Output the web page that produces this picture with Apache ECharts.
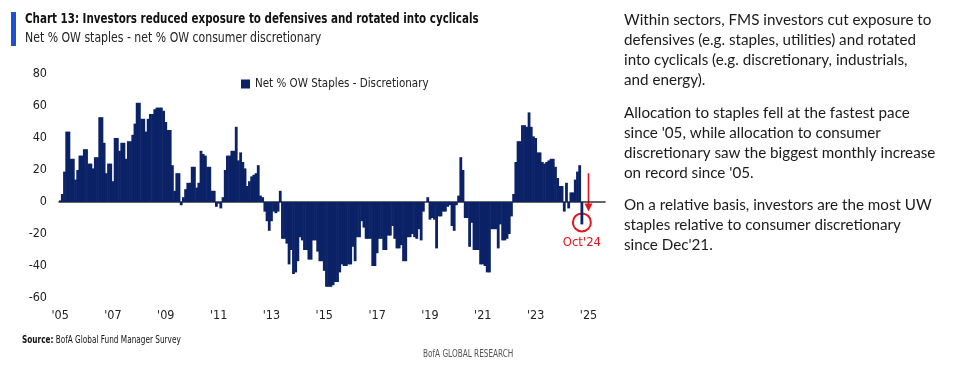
<!DOCTYPE html>
<html>
<head>
<meta charset="utf-8">
<script src="https://cdn.jsdelivr.net/npm/echarts@6/dist/echarts.min.js"></script>
<style>
html,body{margin:0;padding:0;background:#fff;}
#main{width:957px;height:374px;}
</style>
</head>
<body>
<div id="main"></div>
<script>
// ---- Data (monthly, Jan 2005 .. Oct 2024) ----
const v2005 = [1, 5, 19, 44, 44, 27, 27, 14, 20, 29, 29, 33];
const v2006 = [33, 24, 24, 21, 28, 28, 53, 53, 37, 18, 24, 24];
const v2007 = [13, 40, 40, 32, 37, 37, 27, 38, 38, 42, 49, 62];
const v2008 = [62, 52, 52, 44, 52, 55, 55, 58, 59, 59, 59, 57];
const v2009 = [50, 45, 45, 23, 7, 18, 18, -2, 3, 8, 12, 12];
const v2010 = [22, 22, 9, 12, 32, 30, 29, 22, 22, 7, 7, -3];
const v2011 = [-1, -4, 3, 20, 29, 29, 32, 32, 47, 26, 31, 25];
const v2012 = [21, 10, 13, 16, 17, 18, 23, 4, 3, -6, -12, -18];
const v2013 = [-12, -6, -7, -6, 7, -23, -23, -26, -39, -30, -45, -44];
const v2014 = [-37, -22, -24, -30, -30, -36, -36, -24, -24, -31, -37, -37];
const v2015 = [-43, -53, -53, -53, -52, -50, -50, -44, -39, -40, -40, -39];
const v2016 = [-39, -28, -37, -22, -22, -12, -16, -23, -23, -23, -40, -40];
const v2017 = [-32, -23, -23, -30, -30, -21, -21, -15, -23, -29, -29, -27];
const v2018 = [-37, -37, -22, -22, -20, -22, -23, -17, -24, -6, 0, 3];
const v2019 = [-11, -10, -11, -29, -9, -9, -6, -6, -3, -2, -15, -18];
const v2020 = [-2, 4, 28, 20, -10, -10, -28, -13, -30, -30, -30, -39];
const v2021 = [-39, -40, -44, -44, -17, -17, -17, -29, -14, -24, -24, -23];
const v2022 = [-20, -9, 5, 25, 38, 38, 48, 48, 47, 56, 47, 41];
const v2023 = [40, 31, 31, 25, 24, 25, 26, 27, 27, 22, 15, 10];
const v2024 = [10, -6, 12, -4, 6, 6, 14, 19, 23, -14];

const seriesValues = [].concat(v2005, v2006, v2007, v2008, v2009, v2010, v2011,
  v2012, v2013, v2014, v2015, v2016, v2017, v2018, v2019, v2020, v2021, v2022, v2023, v2024);

const seriesName = 'Net % OW Staples - Discretionary';
const startYear = 2005;
const totalMonths = 248; // axis runs Jan 2005 .. Aug 2025
const months = [];
for (let i = 0; i < totalMonths; i++) {
  const y = startYear + Math.floor(i / 12);
  const m = (i % 12) + 1;
  months.push(y + '-' + (m < 10 ? '0' + m : m));
}
const yTicks = [-60, -40, -20, 0, 20, 40, 60, 80];
const xTickYears = ["'05", "'07", "'09", "'11", "'13", "'15", "'17", "'19", "'21", "'23", "'25"];
const annotationLabel = "Oct'24";

const title = 'Chart 13: Investors reduced exposure to defensives and rotated into cyclicals';
const subtitle = 'Net % OW staples - net % OW consumer discretionary';
const para1 = "Within sectors, FMS investors cut exposure to\ndefensives (e.g. staples, utilities) and rotated\ninto cyclicals (e.g. discretionary, industrials,\nand energy).";
const para2 = "Allocation to staples fell at the fastest pace\nsince '05, while allocation to consumer\ndiscretionary saw the biggest monthly increase\non record since '05.";
const para3 = "On a relative basis, investors are the most UW\nstaples relative to consumer discretionary\nsince Dec'21.";

const NAVY = '#0b2266';
const RED = '#e5141c';
const NARROW = "'Liberation Sans Narrow', 'DejaVu Sans Condensed', 'Roboto', sans-serif";
const BODY = "Lato, 'Noto Sans', sans-serif";

const data = months.map((m, i) => (i < seriesValues.length ? seriesValues[i] : null));

const chart = echarts.init(document.getElementById('main'), null, {renderer: 'canvas'});
const option = {
  animation: false,
  backgroundColor: '#fff',
  grid: {left: 59, right: 352, top: 74, bottom: 76, containLabel: false},
  legend: {
    data: [seriesName],
    left: 236, top: 73,
    icon: 'rect', itemWidth: 9, itemHeight: 9, itemGap: 4,
    textStyle: {fontFamily: NARROW, fontSize: 11.5, color: '#222'}
  },
  xAxis: [{
    type: 'category', data: months, boundaryGap: true,
    axisLine: {onZero: true, lineStyle: {color: '#333', width: 1.6}},
    axisTick: {show: false}, axisLabel: {show: false}, splitLine: {show: false}
  }, {
    type: 'category', data: months, boundaryGap: true, position: 'bottom',
    axisLine: {show: false, onZero: false}, axisTick: {show: false}, splitLine: {show: false},
    axisLabel: {
      interval: (idx) => idx % 24 === 0,
      margin: 11,
      fontFamily: NARROW, fontSize: 12.5, color: '#222',
      formatter: (val, idx) => xTickYears[Math.round(idx / 24)] || ''
    }
  }],
  yAxis: {
    type: 'value', min: yTicks[0], max: yTicks[yTicks.length - 1], interval: 20,
    axisLine: {show: false}, axisTick: {show: false}, splitLine: {show: false},
    axisLabel: {margin: 12, fontFamily: NARROW, fontSize: 12.5, color: '#222'}
  },
  series: [{
    name: seriesName, type: 'bar', data: data,
    xAxisIndex: 0, yAxisIndex: 0,
    barWidth: 2.8, barGap: '-100%', itemStyle: {color: NAVY}
  }],
  graphic: []
};
chart.setOption(option);

// Annotation positions derived from the chart's scales
const lastIdx = seriesValues.length - 1;
const pBar = chart.convertToPixel({xAxisIndex: 0, yAxisIndex: 0}, [lastIdx, seriesValues[lastIdx]]);
const pArrowTop = chart.convertToPixel({xAxisIndex: 0, yAxisIndex: 0}, [lastIdx + 3, 18]);
const pArrowBot = chart.convertToPixel({xAxisIndex: 0, yAxisIndex: 0}, [lastIdx + 3, -6]);
const ax = pArrowTop[0];

chart.setOption({
  graphic: [
    {type: 'rect', shape: {x: 11, y: 12, width: 5, height: 34}, style: {fill: '#1f4fd6'}},
    {type: 'text', x: 25, y: 12, scaleX: 0.82, style: {text: title, font: 'bold 14px ' + NARROW, fill: '#111'}},
    {type: 'text', x: 25, y: 31, scaleX: 0.9, style: {text: subtitle, font: '13.5px ' + NARROW, fill: '#222'}},
    {type: 'text', x: 624, y: 10, style: {text: para1, font: '15.2px ' + BODY, lineHeight: 20, fill: '#1a1a1a'}},
    {type: 'text', x: 624, y: 103, style: {text: para2, font: '15.2px ' + BODY, lineHeight: 20, fill: '#1a1a1a'}},
    {type: 'text', x: 624, y: 195, style: {text: para3, font: '15.2px ' + BODY, lineHeight: 20, fill: '#1a1a1a'}},
    {type: 'text', x: 22, y: 335, scaleX: 0.74, style: {
      text: '{b|Source:} BofA Global Fund Manager Survey',
      rich: {b: {fontWeight: 'bold', fontFamily: NARROW, fontSize: 11, fill: '#111'}},
      font: '11px ' + NARROW, fill: '#111'}},
    {type: 'text', x: 423, y: 349, scaleX: 0.74, style: {text: 'BofA GLOBAL RESEARCH', font: '11px ' + NARROW, fill: '#555'}},
    {type: 'circle', shape: {cx: pBar[0], cy: pBar[1] - 2, r: 9}, style: {fill: 'none', stroke: RED, lineWidth: 2}},
    {type: 'line', shape: {x1: ax, y1: pArrowTop[1], x2: ax, y2: pArrowBot[1] - 6}, style: {stroke: RED, lineWidth: 1.6}},
    {type: 'polygon', shape: {points: [[ax - 4, pArrowBot[1] - 8], [ax + 4, pArrowBot[1] - 8], [ax, pArrowBot[1]]]}, style: {fill: RED}},
    {type: 'text', x: pBar[0], y: pBar[1] + 18, style: {text: annotationLabel, font: '13px ' + NARROW, fill: RED, align: 'center', verticalAlign: 'middle'}}
  ]
});
</script>
</body>
</html>
